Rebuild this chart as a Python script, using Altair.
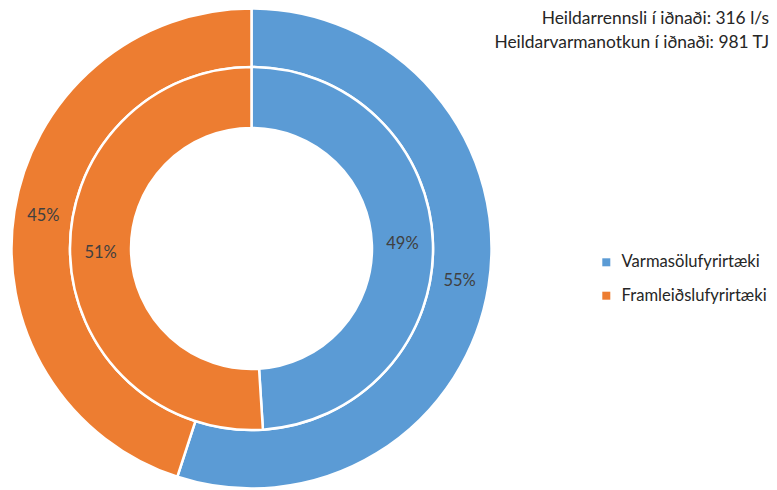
import altair as alt
import pandas as pd

categories = ["Varmasölufyrirtæki", "Framleiðslufyrirtæki"]
outer_values = [55, 45]   # outer ring
inner_values = [49, 51]   # inner ring
colors = ["#5B9BD5", "#ED7D31"]
header_lines = ["Heildarrennsli í iðnaði: 316 l/s", "Heildarvarmanotkun í iðnaði: 981 TJ"]

rows = []
for i, c in enumerate(categories):
    rows.append({"cat": c, "order": i, "ring": "outer", "value": outer_values[i], "label": f"{outer_values[i]}%"})
    rows.append({"cat": c, "order": i, "ring": "inner", "value": inner_values[i], "label": f"{inner_values[i]}%"})
df = pd.DataFrame(rows)

FONT = "Lato"
CX, CY = 243.5, 240.5
R_OUT, R_MID, R_IN = 240, 181.5, 120.5

color = alt.Color(
    "cat:N",
    scale=alt.Scale(domain=categories, range=colors),
    sort=categories,
    legend=alt.Legend(
        title=None, orient="none", legendX=590, legendY=246,
        symbolType="square", symbolSize=64, symbolStrokeWidth=0,
        labelFont=FONT, labelFontSize=16.6, labelColor="#262626",
        rowPadding=16.4, labelOffset=7, padding=0, labelLimit=300,
    ),
)

base = alt.Chart(df).encode(
    theta=alt.Theta("value:Q", stack=True),
    order=alt.Order("order:Q"),
    x=alt.value(CX), y=alt.value(CY),
)

outer = base.transform_filter(alt.datum.ring == "outer")
inner = base.transform_filter(alt.datum.ring == "inner")

outer_arc = outer.mark_arc(radius=R_OUT, radius2=R_MID, stroke="white", strokeWidth=2.5).encode(color=color)
inner_arc = inner.mark_arc(radius=R_MID, radius2=R_IN, stroke="white", strokeWidth=2.5).encode(color=color)

outer_txt = outer.mark_text(radius=(R_OUT + R_MID) / 2, font=FONT, fontSize=16.5, color="#404040").encode(text="label:N")
inner_txt = inner.mark_text(radius=(R_MID + R_IN) / 2, font=FONT, fontSize=16.5, color="#404040").encode(text="label:N")

hdf = pd.DataFrame({"t": header_lines, "i": [0, 1]})
header = alt.Chart(hdf).mark_text(align="right", baseline="middle", font=FONT, fontSize=17.4, color="#262626").encode(
    text="t:N",
    x=alt.value(761),
    y=alt.Y("i:Q", axis=None, scale=alt.Scale(domain=[0, 1], range=[11, 35])),
)

chart = alt.layer(outer_arc, inner_arc, outer_txt, inner_txt, header).properties(
    width=761, height=482, autosize=alt.AutoSizeParams(type="none"), padding=0,
).configure_view(stroke=None)

chart.save("out.html", embed_options={"renderer": "svg", "actions": False})
